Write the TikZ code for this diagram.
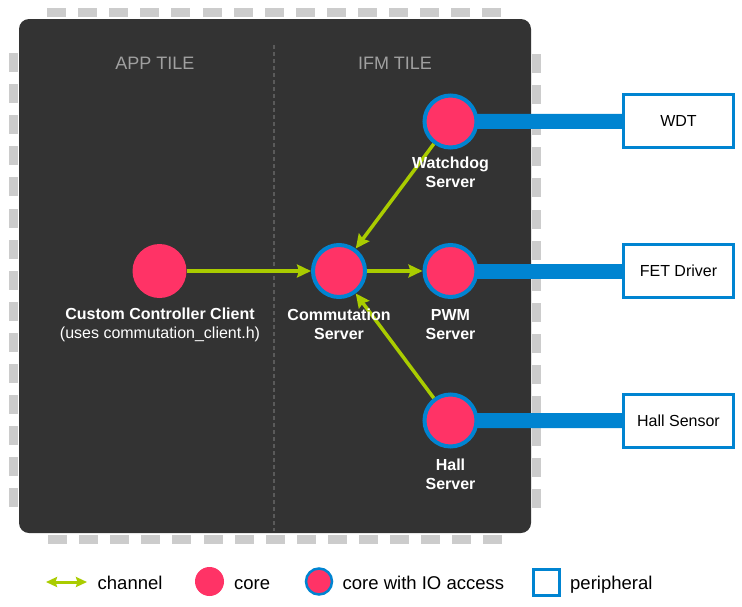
\documentclass[tikz,border=0pt]{standalone}
\usepackage{fontspec}
\setmainfont{Liberation Sans}
\usetikzlibrary{arrows.meta,backgrounds}
\definecolor{darkbg}{HTML}{333333}
\definecolor{corepink}{HTML}{FF3366}
\definecolor{ioblue}{HTML}{0084D1}
\definecolor{chgreen}{HTML}{AACC00}
\definecolor{pingray}{HTML}{CCCCCC}
\definecolor{tilegray}{HTML}{A0A0A0}
\definecolor{divgray}{HTML}{5A5A5A}
\begin{document}
\begin{tikzpicture}[x=1pt,y=-1pt,
  core/.style={circle,fill=corepink,minimum size=54pt,inner sep=0pt,outer sep=0pt},
  iocore/.style={circle,fill=corepink,draw=ioblue,line width=4pt,minimum size=52pt,inner sep=0pt,outer sep=2pt},
  periph/.style={rectangle,fill=white,draw=ioblue,line width=3pt,minimum width=110pt,minimum height=53pt,inner sep=0pt,font=\fontsize{16}{19}\selectfont,text=black},
  clabel/.style={align=center,text=white,font=\bfseries\fontsize{16}{19}\selectfont,inner sep=0pt},
  tilelabel/.style={text=tilegray,font=\fontsize{18}{20}\selectfont,inner sep=0pt},
  channel/.style={draw=chgreen,line width=3.5pt,-{Stealth[length=14pt,width=13pt,inset=2pt]}},
  legchannel/.style={draw=chgreen,line width=3pt,{Stealth[length=11pt,width=10pt,inset=1.5pt]}-{Stealth[length=11pt,width=10pt,inset=1.5pt]}},
  iolink/.style={draw=ioblue,line width=15pt},
  legtext/.style={anchor=base west,inner sep=0pt,text=black,font=\fontsize{18.5}{20}\selectfont}
]
\useasboundingbox (0,0) rectangle (742,606);

% chip body and pins
\begin{scope}[on background layer]
  \foreach \k in {0,...,14} {
    \fill[pingray] (47+31.1*\k, 8) rectangle ++(19,9);
    \fill[pingray] (48+31.1*\k, 535) rectangle ++(19,8.5);
    \fill[pingray] (9, 53+31.1*\k) rectangle ++(9,19);
    \fill[pingray] (532, 54+31.1*\k) rectangle ++(9,19);
  }
  \fill[darkbg, rounded corners=10pt] (19,19) rectangle (531,533);
  \draw[divgray, line width=1.2pt, dash pattern=on 4pt off 3pt] (274,45) -- (274,531);
\end{scope}

\node[tilelabel] (apptile) at (155,63) {APP TILE};
\node[tilelabel] (ifmtile) at (395,63) {IFM TILE};

% cores
\node[core] (client) at (159.5,271) {};
\node[iocore] (comm) at (339,271) {};
\node[iocore] (pwm) at (450.5,271) {};
\node[iocore] (wd) at (450.5,121.5) {};
\node[iocore] (hall) at (450.5,420.5) {};

% peripherals
\node[periph] (wdt) at (678.5,121.3) {WDT};
\node[periph] (fet) at (678.5,271) {FET Driver};
\node[periph] (hallsens) at (678.5,420.7) {Hall Sensor};

% IO links
\begin{scope}[on background layer]
  \draw[iolink] (wd.center) -- (wdt.west);
  \draw[iolink] (pwm.center) -- (fet.west);
  \draw[iolink] (hall.center) -- (hallsens.west);
\end{scope}

% channels
\draw[channel] (client) -- (comm);
\draw[channel] (comm) -- (pwm);
\draw[channel] (wd) -- (comm);
\draw[channel] (hall) -- (comm);

% labels (on top of channels)
\node[clabel] (clientlab) at (160,325) {Custom Controller Client\\\normalfont\fontsize{16}{19}\selectfont(uses commutation\_client.h)};
\node[clabel] (commlab) at (339,324.5) {Commutation\\Server};
\node[clabel] (pwmlab) at (450.5,324.5) {PWM\\Server};
\node[clabel] (wdlab) at (450.5,172.5) {Watchdog\\Server};
\node[clabel] (halllab) at (450.5,474) {Hall\\Server};

% legend
\coordinate (legA) at (46,582);
\coordinate (legB) at (87,582);
\draw[legchannel] (legA) -- (legB);
\node[legtext] (legchtext) at (97.5,589) {channel};
\node[core, minimum size=29pt] (legcore) at (209.5,581.5) {};
\node[legtext] (legcoretext) at (234,589) {core};
\node[iocore, minimum size=26pt, line width=2.5pt] (legio) at (319,581.5) {};
\node[legtext] (legiotext) at (342.5,589) {core with IO access};
\node[rectangle, fill=white, draw=ioblue, line width=3pt, minimum width=26pt, minimum height=26pt, inner sep=0pt] (legper) at (546.2,582.5) {};
\node[legtext] (legpertext) at (570,589) {peripheral};
\end{tikzpicture}
\end{document}
